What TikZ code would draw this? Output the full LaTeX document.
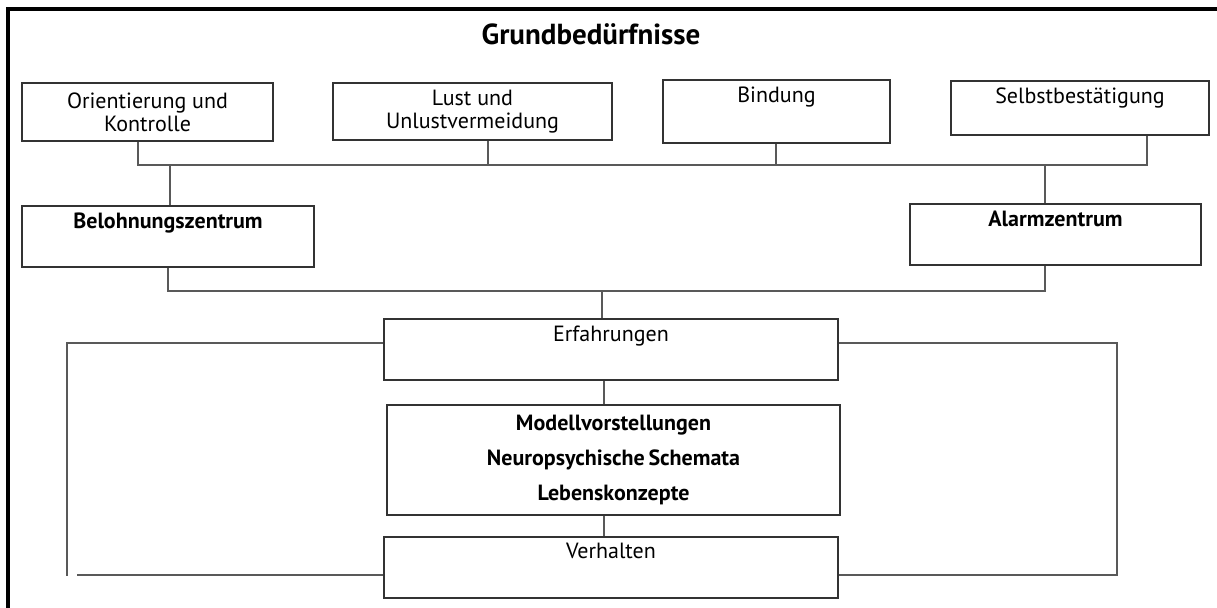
\documentclass[tikz,border=0pt]{standalone}
\usepackage{fontspec}
\setmainfont{PT Sans}
\usepackage{tikz}

\tikzset{
	kasten/.style={draw=black!80, line width=0.9pt, inner sep=0pt, align=center, font=\fontsize{11}{11.5}\selectfont},
	oben/.style={label={[anchor=north, inner sep=0pt, yshift=-3.5pt, font=\fontsize{11}{11.5}\selectfont]north:#1}},
	linie/.style={draw=black!65, line width=0.9pt}
}

\begin{document}
\begin{tikzpicture}[x=0.5pt, y=-0.5pt]
			\useasboundingbox (0,0) rectangle (1217,608);
			\draw[line width=1.6pt] (8,608) -- (8,9) -- (1217,9);
			\node[anchor=base, font=\fontsize{14.5}{16}\selectfont\bfseries] (titel) at (591,45) {Grundbedürfnisse};

			\node[kasten, minimum width=125.5pt, minimum height=29pt] (orient) at (147.5,112) {Orientierung und\\Kontrolle};
			\node[kasten, minimum width=139.5pt, minimum height=28.5pt] (lust) at (472.5,111.5) {Lust und\\Unlustvermeidung};
			\node[kasten, minimum width=113.5pt, minimum height=31.5pt, oben=Bindung] (bind) at (776.5,111.5) {};
			\node[kasten, minimum width=129pt, minimum height=27pt, oben=Selbstbestätigung] (selbst) at (1080,108) {};
			\node[kasten, minimum width=146pt, minimum height=30.5pt, oben=\textbf{Belohnungszentrum}] (belohn) at (168,236.5) {};
			\node[kasten, minimum width=145.5pt, minimum height=30.5pt, oben=\textbf{Alarmzentrum}] (alarm) at (1055.5,234.5) {};
			\node[kasten, minimum width=227pt, minimum height=30.5pt, oben=Erfahrungen] (erf) at (611,349.5) {};
			\node[kasten, minimum width=226.5pt, minimum height=55pt, font=\fontsize{11}{12.5}\selectfont\bfseries] (modell) at (613.5,460) {Modellvorstellungen\\[5pt]Neuropsychische\,Schemata\\[5pt]Lebenskonzepte};
			\node[kasten, minimum width=227pt, minimum height=30.5pt, oben=Verhalten] (verh) at (611,567.5) {};

			\coordinate (k1) at (138,165);
			\coordinate (k2) at (488,165);
			\coordinate (k3) at (776,165);
			\coordinate (k4) at (1147,165);
			\coordinate (k5) at (170,165);
			\coordinate (k6) at (1045,165);
			\coordinate (m1) at (168,291);
			\coordinate (m2) at (1045,291);
			\coordinate (m3) at (602,291);
			\coordinate (s1) at (604,450);
			\coordinate (l1) at (67,343);
			\coordinate (l2) at (67,576);
			\coordinate (l3) at (77,575);
			\coordinate (r1) at (1117,343);
			\coordinate (r2) at (1117,575);

			\draw[linie] (orient.south -| k1) -- (k1) -- (k4) -- (selbst.south -| k4);
			\draw[linie] (lust.south -| k2) -- (k2);
			\draw[linie] (bind.south -| k3) -- (k3);
			\draw[linie] (k5) -- (belohn.north -| k5);
			\draw[linie] (k6) -- (alarm.north -| k6);
			\draw[linie] (belohn.south -| m1) -- (m1) -- (m2) -- (alarm.south -| m2);
			\draw[linie] (m3) -- (erf.north -| m3);
			\draw[linie] (erf.south -| s1) -- (modell.north -| s1);
			\draw[linie] (modell.south -| s1) -- (verh.north -| s1);
			\draw[linie] (erf.west |- l1) -- (l1) -- (l2);
			\draw[linie] (l3) -- (verh.west |- l3);
			\draw[linie] (erf.east |- r1) -- (r1) -- (r2) -- (verh.east |- r2);
		\end{tikzpicture}
\end{document}
